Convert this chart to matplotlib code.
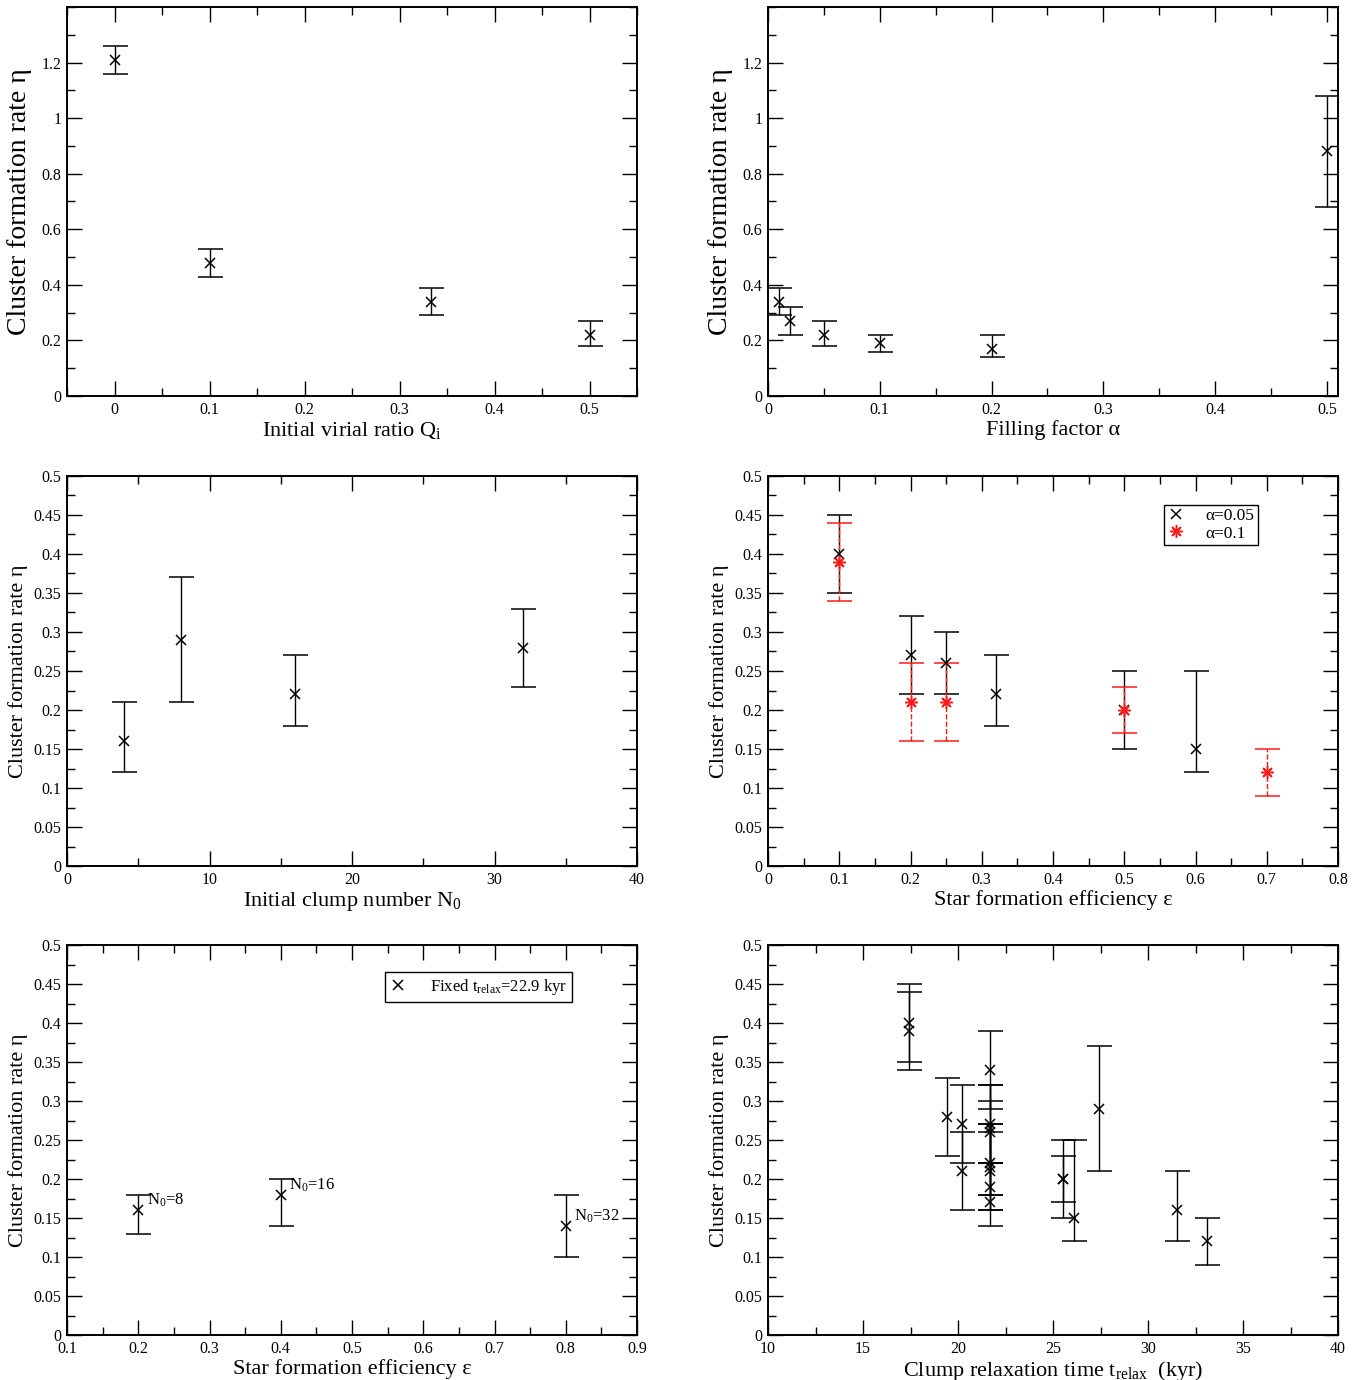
import numpy as np
import matplotlib
matplotlib.use("Agg")
import matplotlib.pyplot as plt
from matplotlib.ticker import MultipleLocator, FuncFormatter

plt.rcParams['font.family'] = ['Liberation Serif', 'DejaVu Serif']
plt.rcParams['mathtext.default'] = 'regular'

# eta vs initial virial ratio
q_x = [0.0, 0.1, 0.333, 0.5]
q_eta = [1.21, 0.48, 0.34, 0.22]
q_lo = [1.16, 0.43, 0.29, 0.18]
q_hi = [1.26, 0.53, 0.39, 0.27]

# eta vs filling factor
ff_x = [0.01, 0.02, 0.05, 0.1, 0.2, 0.5]
ff_eta = [0.34, 0.27, 0.22, 0.19, 0.17, 0.88]
ff_lo = [0.29, 0.22, 0.18, 0.16, 0.14, 0.68]
ff_hi = [0.39, 0.32, 0.27, 0.22, 0.22, 1.08]

# eta vs initial clump number
n0_x = [4, 8, 16, 32]
n0_eta = [0.16, 0.29, 0.22, 0.28]
n0_lo = [0.12, 0.21, 0.18, 0.23]
n0_hi = [0.21, 0.37, 0.27, 0.33]

# eta vs SFE, alpha = 0.05
sfe_a_x = [0.1, 0.2, 0.25, 0.32, 0.5, 0.6]
sfe_a_eta = [0.40, 0.27, 0.26, 0.22, 0.20, 0.15]
sfe_a_lo = [0.35, 0.22, 0.22, 0.18, 0.15, 0.12]
sfe_a_hi = [0.45, 0.32, 0.30, 0.27, 0.25, 0.25]

# eta vs SFE, alpha = 0.1
sfe_b_x = [0.1, 0.2, 0.25, 0.5, 0.7]
sfe_b_eta = [0.39, 0.21, 0.21, 0.20, 0.12]
sfe_b_lo = [0.34, 0.16, 0.16, 0.17, 0.09]
sfe_b_hi = [0.44, 0.26, 0.26, 0.23, 0.15]

# eta vs SFE at fixed relaxation time
fix_x = [0.2, 0.4, 0.8]
fix_eta = [0.16, 0.18, 0.14]
fix_lo = [0.13, 0.14, 0.10]
fix_hi = [0.18, 0.20, 0.18]
fix_names = ['N$_0$=8', 'N$_0$=16', 'N$_0$=32']

# all runs vs clump relaxation time
tr_x = [17.4, 17.4, 19.4, 20.2, 20.2,
        21.7, 21.7, 21.7, 21.7, 21.7, 21.7, 21.7, 21.7, 21.7,
        25.5, 25.5, 26.1, 27.4, 31.5, 33.1]
tr_eta = [0.40, 0.39, 0.28, 0.27, 0.21,
          0.34, 0.27, 0.265, 0.26, 0.22, 0.215, 0.21, 0.19, 0.17,
          0.20, 0.20, 0.15, 0.29, 0.16, 0.12]
tr_lo = [0.35, 0.34, 0.23, 0.22, 0.16,
         0.29, 0.22, 0.22, 0.22, 0.18, 0.18, 0.16, 0.16, 0.14,
         0.15, 0.17, 0.12, 0.21, 0.12, 0.09]
tr_hi = [0.45, 0.44, 0.33, 0.32, 0.26,
         0.39, 0.32, 0.32, 0.30, 0.27, 0.27, 0.26, 0.22, 0.22,
         0.25, 0.23, 0.25, 0.37, 0.21, 0.15]

ylab = 'Cluster formation rate η'
W, H = 1365, 1380


def pts(ax, x, y, lo, hi, color='k', marker='x', ms=7, dashed=False, label=None):
    y = np.asarray(y)
    err = [y - np.asarray(lo), np.asarray(hi) - y]
    _, _, bars = ax.errorbar(x, y, yerr=err, fmt='', marker=marker,
                             linestyle='none', color=color, ms=ms,
                             mew=1.1, elinewidth=1, capsize=9, capthick=1,
                             label=label)
    if dashed:
        for b in bars:
            b.set_linestyle('--')


def frame(ax, xlim, ylim, xmaj, xmin, ymaj, ymin, xlabel, ysize=16, ypad=4):
    ax.set_xlim(xlim)
    ax.set_ylim(ylim)
    ax.xaxis.set_major_locator(MultipleLocator(xmaj))
    ax.xaxis.set_minor_locator(MultipleLocator(xmin))
    ax.yaxis.set_major_locator(MultipleLocator(ymaj))
    ax.yaxis.set_minor_locator(MultipleLocator(ymin))
    fmt = FuncFormatter(lambda v, p: '%g' % round(v, 6))
    ax.xaxis.set_major_formatter(fmt)
    ax.yaxis.set_major_formatter(fmt)
    ax.tick_params(which='both', direction='in', top=True, right=True,
                   labelsize=11.5, width=1)
    ax.tick_params(which='major', length=11)
    ax.tick_params(which='minor', length=6)
    ax.tick_params(axis='x', which='major', pad=4.5)
    ax.tick_params(axis='y', which='major', pad=4)
    for s in ax.spines.values():
        s.set_linewidth(1.4)
    ax.set_xlabel(xlabel, fontsize=16, labelpad=1)
    ax.set_ylabel(ylab, fontsize=ysize, labelpad=ypad)


def box(x0, y0, x1, y1):
    return [x0 / W, 1 - y1 / H, (x1 - x0) / W, (y1 - y0) / H]


fig = plt.figure(figsize=(W / 100, H / 100), dpi=100)

ax1 = fig.add_axes(box(67, 7, 637, 396))
pts(ax1, q_x, q_eta, q_lo, q_hi)
frame(ax1, (-0.05, 0.55), (0, 1.4), 0.1, 0.05, 0.2, 0.1,
      'Initial virial ratio Q$_i$', ysize=20, ypad=7)
ax1.set_yticks([0, 0.2, 0.4, 0.6, 0.8, 1.0, 1.2])

ax2 = fig.add_axes(box(768, 7, 1338, 396))
pts(ax2, ff_x, ff_eta, ff_lo, ff_hi)
frame(ax2, (0, 0.51), (0, 1.4), 0.1, 0.05, 0.2, 0.1, 'Filling factor α',
      ysize=20, ypad=7)
ax2.set_yticks([0, 0.2, 0.4, 0.6, 0.8, 1.0, 1.2])

ax3 = fig.add_axes(box(67, 476, 637, 866))
pts(ax3, n0_x, n0_eta, n0_lo, n0_hi)
frame(ax3, (0, 40), (0, 0.5), 10, 5, 0.05, 0.025,
      'Initial clump number N$_0$')

ax4 = fig.add_axes(box(768, 476, 1338, 866))
pts(ax4, sfe_a_x, sfe_a_eta, sfe_a_lo, sfe_a_hi, label='α=0.05')
pts(ax4, sfe_b_x, sfe_b_eta, sfe_b_lo, sfe_b_hi, color='#ff1a1a',
    marker=(8, 2, 0), ms=9, dashed=True, label='α=0.1')
frame(ax4, (0, 0.8), (0, 0.5), 0.1, 0.05, 0.05, 0.025,
      'Star formation efficiency ε')
h, l = ax4.get_legend_handles_labels()
h = [hh[0] for hh in h]
ax4.legend(h, l, loc='upper right', bbox_to_anchor=(0.86, 0.926),
           borderaxespad=0, fontsize=12.5, fancybox=False, edgecolor='k',
           framealpha=1, handletextpad=1.2, borderpad=0.2, labelspacing=0.05,
           handlelength=1.0)

ax5 = fig.add_axes(box(67, 945, 637, 1335))
pts(ax5, fix_x, fix_eta, fix_lo, fix_hi, label='Fixed t$_{relax}$=22.9 kyr')
for x, y, s in zip(fix_x, fix_eta, fix_names):
    ax5.annotate(s, (x, y), xytext=(6, 7), textcoords='offset points',
                 ha='left', va='center', fontsize=12)
frame(ax5, (0.1, 0.9), (0, 0.5), 0.1, 0.05, 0.05, 0.025,
      'Star formation efficiency ε')
h, l = ax5.get_legend_handles_labels()
h = [hh[0] for hh in h]
ax5.legend(h, l, loc='upper right', bbox_to_anchor=(0.886, 0.931),
           borderaxespad=0, fontsize=12, fancybox=False, edgecolor='k',
           framealpha=1, handletextpad=1.4, borderpad=0.3, handlelength=1.0)

ax6 = fig.add_axes(box(768, 945, 1338, 1335))
pts(ax6, tr_x, tr_eta, tr_lo, tr_hi)
frame(ax6, (10, 40), (0, 0.5), 5, 2.5, 0.05, 0.025,
      'Clump relaxation time t$_{relax}$  (kyr)')

fig.savefig('out.png', dpi=100)
